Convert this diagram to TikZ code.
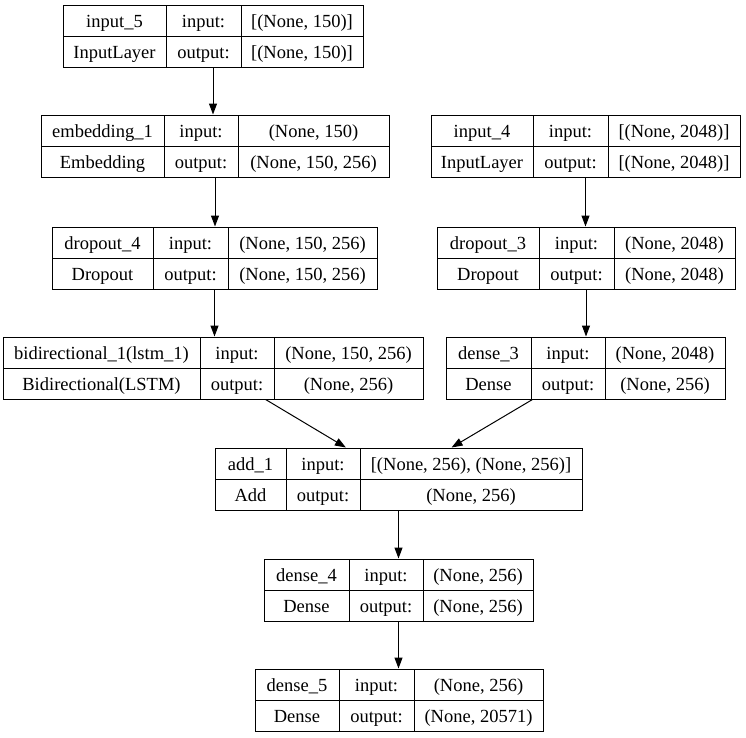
\documentclass[tikz,border=0pt]{standalone}
\usepackage{fontspec}
\setmainfont{Liberation Serif}
\usetikzlibrary{arrows.meta}
\tikzstyle{layerbox}=[draw=black,line width=1pt,fill=white,
                      inner sep=0pt,minimum height=62pt]
\tikzstyle{celltext}=[anchor=base,inner sep=0pt,
                      font=\fontsize{18.5}{22}\selectfont]
\tikzstyle{flow}=[line width=1pt,-{Triangle[length=11pt,width=8pt]}]

\begin{document}
\begin{tikzpicture}[x=1pt,y=-1pt]
    \useasboundingbox (0,0) rectangle (746,737);
    % #1 name, #2..#5 left edge, dividers, right edge, #6 top
    \newcommand{\layer}[6]{
      \node (#1) at ({(#2+#5)/2},{#6+31}) [layerbox,minimum width={(#5-#2)*1pt}]{};
      \draw[line width=1pt] (#2,{#6+31}) -- (#5,{#6+31});
      \draw[line width=1pt] (#3,#6) -- (#3,{#6+62});
      \draw[line width=1pt] (#4,#6) -- (#4,{#6+62});
      \coordinate (#1-a) at ({(#2+#3)/2},{#6+22.5});
      \coordinate (#1-b) at ({(#2+#3)/2},{#6+53.5});
      \coordinate (#1-c) at ({(#3+#4)/2},{#6+22.5});
      \coordinate (#1-d) at ({(#3+#4)/2},{#6+53.5});
      \coordinate (#1-e) at ({(#4+#5)/2},{#6+22.5});
      \coordinate (#1-f) at ({(#4+#5)/2},{#6+53.5});
    }
    % #1 name, #2 layer name, #3 class, #4 input shape, #5 output shape
    \newcommand{\cells}[5]{
      \node (#1-name) at (#1-a) [celltext]{#2};
      \node (#1-type) at (#1-b) [celltext]{#3};
      \node (#1-inlbl) at (#1-c) [celltext]{input:};
      \node (#1-outlbl) at (#1-d) [celltext]{output:};
      \node (#1-in) at (#1-e) [celltext]{#4};
      \node (#1-out) at (#1-f) [celltext]{#5};
    }
    \layer{input5}{63}{166}{241}{363}{5}
    \cells{input5}{input\_5}{InputLayer}{[(None, 150)]}{[(None, 150)]}
    \layer{embed1}{41}{164}{238}{389}{115}
    \cells{embed1}{embedding\_1}{Embedding}{(None, 150)}{(None, 150, 256)}
    \layer{input4}{431}{533}{608}{740}{115}
    \cells{input4}{input\_4}{InputLayer}{[(None, 2048)]}{[(None, 2048)]}
    \layer{drop4}{52}{153}{228}{377}{227}
    \cells{drop4}{dropout\_4}{Dropout}{(None, 150, 256)}{(None, 150, 256)}
    \layer{drop3}{437}{539}{614}{735}{227}
    \cells{drop3}{dropout\_3}{Dropout}{(None, 2048)}{(None, 2048)}
    \layer{bidi1}{3}{200}{274}{423}{337}
    \cells{bidi1}{bidirectional\_1(lstm\_1)}{Bidirectional(LSTM)}{(None, 150, 256)}{(None, 256)}
    \layer{dense3}{446}{531}{605}{725}{337}
    \cells{dense3}{dense\_3}{Dense}{(None, 2048)}{(None, 256)}
    \layer{add1}{215}{286}{360}{582}{448}
    \cells{add1}{add\_1}{Add}{[(None, 256), (None, 256)]}{(None, 256)}
    \layer{dense4}{264}{349}{423}{533}{559}
    \cells{dense4}{dense\_4}{Dense}{(None, 256)}{(None, 256)}
    \layer{dense5}{255}{339}{414}{543}{669}
    \cells{dense5}{dense\_5}{Dense}{(None, 256)}{(None, 20571)}

    \draw[flow] (input5.south) -- (input5.south |- embed1.north);
    \draw[flow] (embed1.south) -- (embed1.south |- drop4.north);
    \draw[flow] (drop4.south) -- (drop4.south |- bidi1.north);
    \draw[flow] (input4.south) -- (input4.south |- drop3.north);
    \draw[flow] (drop3.south) -- (drop3.south |- dense3.north);
    \draw[flow] (bidi1) -- (add1);
    \draw[flow] (dense3) -- (add1);
    \draw[flow] (add1.south) -- (add1.south |- dense4.north);
    \draw[flow] (dense4.south) -- (dense4.south |- dense5.north);
  \end{tikzpicture}
\end{document}
